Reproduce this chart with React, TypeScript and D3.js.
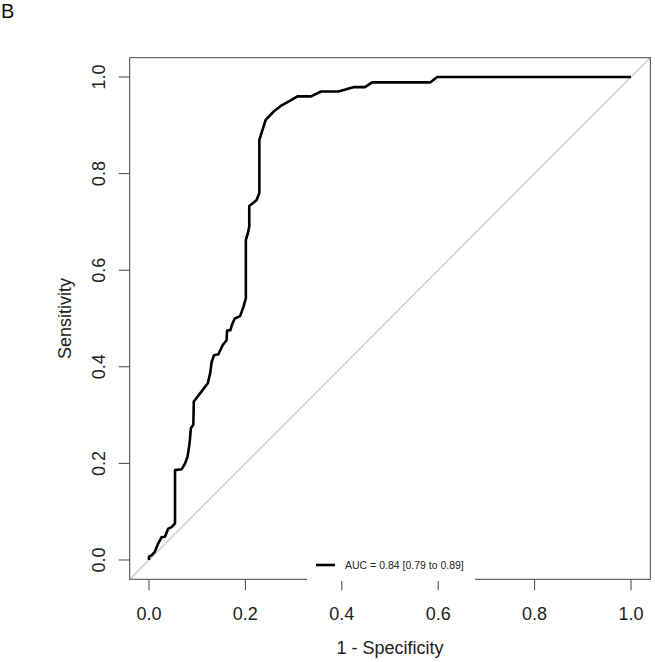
import React, { useEffect, useRef } from 'react';
import * as d3 from 'd3';

// ROC curve (1 - specificity, sensitivity)
const fpr = [
  0.0, 0.0, 0.006, 0.012, 0.019, 0.026, 0.033, 0.04, 0.047, 0.054, 0.054, 0.068, 0.075, 0.08, 0.084,
  0.087, 0.092, 0.093, 0.106, 0.122, 0.127, 0.13, 0.135, 0.144, 0.153, 0.161, 0.162, 0.169, 0.172,
  0.178, 0.189, 0.196, 0.201, 0.201, 0.205, 0.208, 0.208, 0.216, 0.223, 0.229, 0.229, 0.236, 0.242,
  0.258, 0.276, 0.293, 0.308, 0.336, 0.357, 0.393, 0.424, 0.448, 0.463, 0.584, 0.598, 1.0,
];
const tpr = [
  0.0, 0.007, 0.01, 0.017, 0.034, 0.047, 0.048, 0.065, 0.068, 0.076, 0.186, 0.188, 0.2, 0.214, 0.24,
  0.273, 0.28, 0.328, 0.345, 0.366, 0.387, 0.41, 0.424, 0.426, 0.445, 0.455, 0.475, 0.476, 0.487,
  0.5, 0.505, 0.524, 0.542, 0.663, 0.676, 0.69, 0.733, 0.739, 0.745, 0.76, 0.87, 0.892, 0.911,
  0.928, 0.942, 0.951, 0.96, 0.96, 0.97, 0.97, 0.979, 0.979, 0.989, 0.989, 1.0, 1.0,
];
const tickValues = [0, 0.2, 0.4, 0.6, 0.8, 1.0];
const panelLabel = 'B';
const xTitle = '1 - Specificity';
const yTitle = 'Sensitivity';
const legendText = 'AUC = 0.84 [0.79 to 0.89]';

const W = 655;
const H = 662;
const FONT = '"Liberation Sans", Arial, sans-serif';

const App = () => {
  const svgRef = useRef<SVGSVGElement>(null);

  useEffect(() => {
    if (!svgRef.current) return;
    const svg = d3.select(svgRef.current);
    svg.selectAll('*').remove();

    // R style: axes extend 4% past the data range
    const x = d3.scaleLinear().domain([-0.04, 1.04]).range([129.7, 650.3]);
    const y = d3.scaleLinear().domain([-0.04, 1.04]).range([579.3, 57.7]);
    const axisColor = '#444';
    const textColor = '#222';

    svg.append('rect').attr('width', W).attr('height', H).attr('fill', '#fff');

    // diagonal chance line
    svg.append('line')
      .attr('x1', x(-0.04)).attr('y1', y(-0.04))
      .attr('x2', x(1.04)).attr('y2', y(1.04))
      .attr('stroke', '#c4c4c4')
      .attr('stroke-width', 1.2);

    // plot box
    svg.append('rect')
      .attr('x', x(-0.04)).attr('y', y(1.04))
      .attr('width', x(1.04) - x(-0.04))
      .attr('height', y(-0.04) - y(1.04))
      .attr('fill', 'none')
      .attr('stroke', axisColor)
      .attr('stroke-width', 1);

    // ROC curve
    const pts = fpr.map((f, i) => [f, tpr[i]] as [number, number]);
    const line = d3.line<[number, number]>().x(d => x(d[0])).y(d => y(d[1]));
    svg.append('path')
      .datum(pts)
      .attr('d', line)
      .attr('fill', 'none')
      .attr('stroke', '#000')
      .attr('stroke-width', 2.6)
      .attr('stroke-linejoin', 'round');

    // x axis
    const xa = svg.append('g');
    tickValues.forEach(t => {
      xa.append('line')
        .attr('x1', x(t)).attr('x2', x(t))
        .attr('y1', y(-0.04)).attr('y2', y(-0.04) + 11)
        .attr('stroke', axisColor);
      xa.append('text')
        .attr('x', x(t)).attr('y', 620)
        .attr('text-anchor', 'middle')
        .attr('font-family', FONT)
        .attr('font-size', 18)
        .attr('fill', textColor)
        .text(t.toFixed(1));
    });
    svg.append('text')
      .attr('x', x(0.5)).attr('y', 654)
      .attr('text-anchor', 'middle')
      .attr('font-family', FONT)
      .attr('font-size', 18)
      .attr('fill', textColor)
      .text(xTitle);

    // y axis
    const ya = svg.append('g');
    tickValues.forEach(t => {
      ya.append('line')
        .attr('x1', x(-0.04) - 11).attr('x2', x(-0.04))
        .attr('y1', y(t)).attr('y2', y(t))
        .attr('stroke', axisColor);
      ya.append('text')
        .attr('transform', `translate(105, ${y(t)}) rotate(-90)`)
        .attr('text-anchor', 'middle')
        .attr('font-family', FONT)
        .attr('font-size', 18)
        .attr('fill', textColor)
        .text(t.toFixed(1));
    });
    svg.append('text')
      .attr('transform', `translate(71, ${y(0.5)}) rotate(-90)`)
      .attr('text-anchor', 'middle')
      .attr('font-family', FONT)
      .attr('font-size', 18)
      .attr('fill', textColor)
      .text(yTitle);

    // legend (white background hides part of the bottom border)
    const lg = svg.append('g');
    lg.append('rect')
      .attr('x', 307).attr('y', 550)
      .attr('width', 168).attr('height', 31)
      .attr('fill', '#fff');
    lg.append('line')
      .attr('x1', 316).attr('x2', 335)
      .attr('y1', 565).attr('y2', 565)
      .attr('stroke', '#000')
      .attr('stroke-width', 2.6);
    lg.append('text')
      .attr('x', 345).attr('y', 569)
      .attr('font-family', FONT)
      .attr('font-size', 10.5)
      .attr('fill', textColor)
      .text(legendText);

    // panel letter
    svg.append('text')
      .attr('x', 1).attr('y', 18)
      .attr('font-family', FONT)
      .attr('font-size', 20)
      .attr('fill', '#111')
      .text(panelLabel);
  }, []);

  return (
    <svg
      ref={svgRef}
      width={W}
      height={H}
      style={{ position: 'absolute', left: 0, top: 0, display: 'block' }}
    />
  );
};

export default App;
